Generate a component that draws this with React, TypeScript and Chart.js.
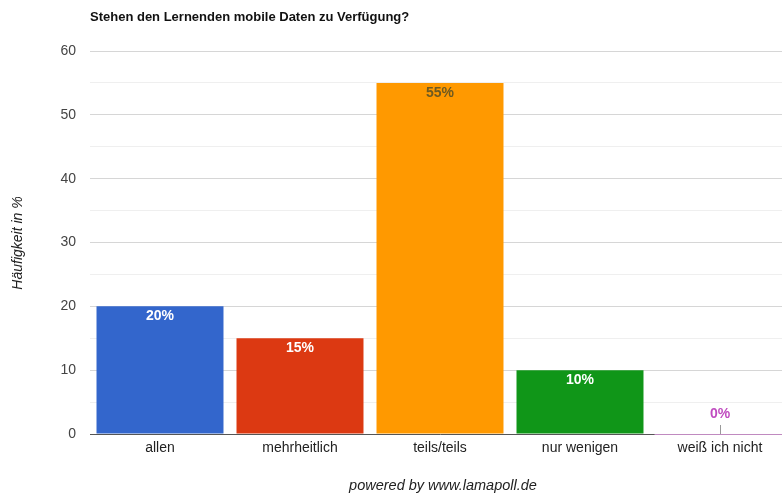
import React, { useEffect, useRef } from "react";
import { Chart, registerables } from "chart.js";

Chart.register(...registerables);

const categories = ["allen", "mehrheitlich", "teils/teils", "nur wenigen", "weiß ich nicht"];
const values = [20, 15, 55, 10, 0];
const barColors = ["#3366cc", "#dc3912", "#ff9900", "#109618", "#990099"];
const labelColors = ["#ffffff", "#ffffff", "#6e5a20", "#ffffff", "#c04cc0"];
const titleText = "Stehen den Lernenden mobile Daten zu Verfügung?";
const yAxisTitle = "Häufigkeit in %";
const footerText = "powered by www.lamapoll.de";

const FONT = "'Liberation Sans', Arial, Helvetica, sans-serif";

const overlayPlugin = {
  id: "overlay",
  afterDatasetsDraw(chart: any) {
    const ctx = chart.ctx;
    const meta = chart.getDatasetMeta(0);
    const yScale = chart.scales.y;
    const base = yScale.getPixelForValue(0);
    ctx.save();
    meta.data.forEach((bar: any, i: number) => {
      const v = values[i];
      const half = bar.width / 2;
      ctx.font = `bold 14px ${FONT}`;
      ctx.textAlign = "center";
      ctx.textBaseline = "middle";
      if (v === 0) {
        ctx.strokeStyle = "#c08ac0";
        ctx.lineWidth = 1;
        ctx.beginPath();
        ctx.moveTo(bar.x - half - 2, base + 0.5);
        ctx.lineTo(bar.x + half + 20, base + 0.5);
        ctx.stroke();
        ctx.strokeStyle = "#999999";
        ctx.beginPath();
        ctx.moveTo(Math.round(bar.x) + 0.5, base - 9);
        ctx.lineTo(Math.round(bar.x) + 0.5, base);
        ctx.stroke();
        ctx.fillStyle = labelColors[i];
        ctx.fillText(`${v}%`, bar.x, base - 20);
      } else {
        ctx.fillStyle = labelColors[i];
        ctx.fillText(`${v}%`, bar.x, bar.y + 10);
      }
    });
    ctx.restore();
  },
  afterDraw(chart: any) {
    const ctx = chart.ctx;
    ctx.save();
    ctx.fillStyle = "#111111";
    ctx.font = `bold 13px ${FONT}`;
    ctx.textAlign = "left";
    ctx.textBaseline = "middle";
    ctx.fillText(titleText, 90, 17);

    ctx.font = `italic 14.5px ${FONT}`;
    ctx.fillStyle = "#222222";
    ctx.textAlign = "center";
    ctx.fillText(footerText, 443, 486);

    ctx.font = `italic 14px ${FONT}`;
    ctx.translate(18, 243);
    ctx.rotate(-Math.PI / 2);
    ctx.fillText(yAxisTitle, 0, 0);
    ctx.restore();
  },
};

export default function App() {
  const ref = useRef<HTMLCanvasElement | null>(null);
  useEffect(() => {
    if (!ref.current) return;
    const chart = new Chart(ref.current, {
      type: "bar",
      data: {
        labels: categories,
        datasets: [
          {
            data: values,
            backgroundColor: barColors,
            borderWidth: 0,
            categoryPercentage: 1,
            barPercentage: 0.907,
          },
        ],
      },
      options: {
        animation: false,
        responsive: false,
        layout: { padding: { top: 51, right: 10, left: 0, bottom: 0 } },
        plugins: { legend: { display: false }, tooltip: { enabled: false }, title: { display: false } },
        scales: {
          x: {
            grid: { display: false, drawTicks: false },
            border: { color: "#555555", width: 1 },
            ticks: { color: "#222222", font: { family: FONT, size: 14 }, padding: 6, maxRotation: 0 },
            afterFit: (s: any) => {
              s.height = 59;
            },
          },
          y: {
            min: 0,
            max: 60,
            grid: {
              drawTicks: false,
              color: (c: any) => (c.tick && c.tick.value % 10 === 0 ? "#d6d6d6" : "#efefef"),
            },
            border: { display: false },
            ticks: {
              stepSize: 5,
              padding: 14,
              color: "#444444",
              font: { family: FONT, size: 14 },
              callback: (v: any) => (v % 10 === 0 ? String(v) : ""),
            },
            afterFit: (s: any) => {
              s.width = 90;
            },
          },
        },
      },
      plugins: [overlayPlugin],
    });
    return () => chart.destroy();
  }, []);
  return (
    <div style={{ position: "fixed", left: 0, top: 0, width: 782, height: 493, overflow: "hidden", background: "#fff" }}>
      <canvas ref={ref} width={800} height={493} style={{ display: "block" }} />
    </div>
  );
}
